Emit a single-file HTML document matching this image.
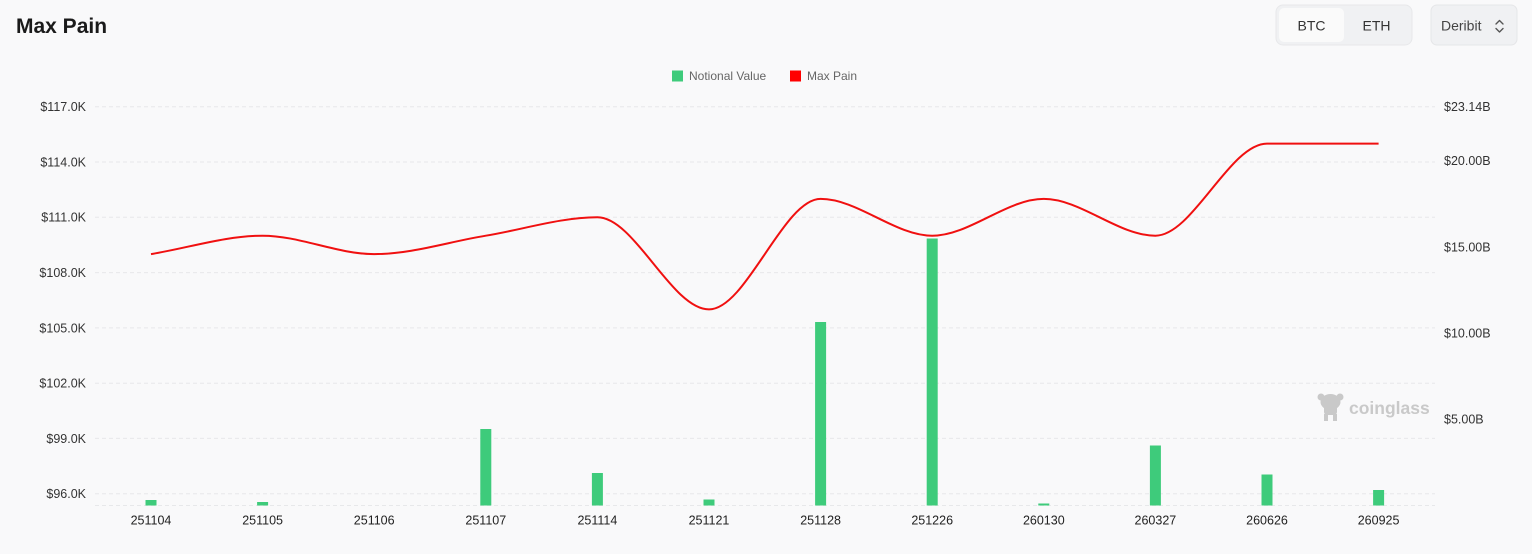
<!DOCTYPE html>
<html>
<head>
<meta charset="utf-8">
<style>
  html, body { margin:0; padding:0; background:#f9f9fa; }
  body { width:1532px; height:549px; overflow:hidden; font-family:"Liberation Sans", sans-serif; }
  svg text { font-family:"Liberation Sans", sans-serif; }
</style>
</head>
<body>
<svg width="1532" height="549" viewBox="0 0 1532 549" xmlns="http://www.w3.org/2000/svg">
  <rect x="0" y="0" width="1532" height="549" fill="#f9f9fa"/>

  <!-- Title -->
  <text x="16" y="33" font-size="21" font-weight="bold" fill="#1a1a1a">Max Pain</text>

  <!-- BTC / ETH toggle -->
  <rect x="1276" y="5" width="136" height="40" rx="7" fill="#f0f1f3" stroke="#e7e8ea"/>
  <rect x="1279" y="8" width="65" height="34" rx="5" fill="#fafafa"/>
  <text x="1311.5" y="30.5" font-size="14" fill="#333" text-anchor="middle">BTC</text>
  <text x="1376.5" y="30.5" font-size="14" fill="#333" text-anchor="middle">ETH</text>

  <!-- Deribit select -->
  <rect x="1431" y="5" width="86" height="40" rx="6" fill="#f0f1f3" stroke="#e5e6e8"/>
  <text x="1441" y="30.5" font-size="14" fill="#444">Deribit</text>
  <polyline points="1496,24 1499.5,20.5 1503,24" fill="none" stroke="#555" stroke-width="1.4" stroke-linecap="round" stroke-linejoin="round"/>
  <polyline points="1496,28.5 1499.5,32 1503,28.5" fill="none" stroke="#555" stroke-width="1.4" stroke-linecap="round" stroke-linejoin="round"/>

  <!-- Legend -->
  <rect x="672" y="70.5" width="11" height="11" fill="#3ecb7b"/>
  <text x="689" y="80" font-size="12" fill="#666">Notional Value</text>
  <rect x="790" y="70.5" width="11" height="11" fill="#ff0000"/>
  <text x="807" y="80" font-size="12" fill="#666">Max Pain</text>

  <!-- Grid lines -->
  <g stroke="#e7e8ea" stroke-width="1" stroke-dasharray="4,3">
    <line x1="95" y1="106.7" x2="1435" y2="106.7"/>
    <line x1="95" y1="162.0" x2="1435" y2="162.0"/>
    <line x1="95" y1="217.3" x2="1435" y2="217.3"/>
    <line x1="95" y1="272.6" x2="1435" y2="272.6"/>
    <line x1="95" y1="327.9" x2="1435" y2="327.9"/>
    <line x1="95" y1="383.2" x2="1435" y2="383.2"/>
    <line x1="95" y1="438.4" x2="1435" y2="438.4"/>
    <line x1="95" y1="493.7" x2="1435" y2="493.7"/>
    <line x1="95" y1="505.5" x2="1435" y2="505.5"/>
  </g>

  <!-- Left axis labels -->
  <g font-size="12.5" fill="#333" text-anchor="end">
    <text x="86" y="111.1">$117.0K</text>
    <text x="86" y="166.4">$114.0K</text>
    <text x="86" y="221.7">$111.0K</text>
    <text x="86" y="277.0">$108.0K</text>
    <text x="86" y="332.3">$105.0K</text>
    <text x="86" y="387.6">$102.0K</text>
    <text x="86" y="442.8">$99.0K</text>
    <text x="86" y="498.1">$96.0K</text>
  </g>

  <!-- Right axis labels -->
  <g font-size="12.5" fill="#333" text-anchor="start">
    <text x="1444" y="111.1">$23.14B</text>
    <text x="1444" y="165.2">$20.00B</text>
    <text x="1444" y="251.3">$15.00B</text>
    <text x="1444" y="337.4">$10.00B</text>
    <text x="1444" y="423.3">$5.00B</text>
  </g>

  <!-- Watermark -->
  <g fill="#c9c9c9">
    <ellipse cx="1330.5" cy="402" rx="10" ry="8"/>
    <circle cx="1321" cy="397" r="3.5"/>
    <circle cx="1340" cy="397" r="3.5"/>
    <rect x="1324" y="405" width="13" height="10" rx="3"/>
    <rect x="1324" y="414" width="4" height="7"/>
    <rect x="1333" y="414" width="4" height="7"/>
    <text x="1349" y="414" font-size="17.5" font-weight="bold" fill="#c9c9c9">coinglass</text>
  </g>

  <!-- Bars -->
  <g fill="#3ecb7b">
    <rect x="145.5" y="500" width="11" height="5.5"/>
    <rect x="257.1" y="502" width="11" height="3.5"/>
    <rect x="480.3" y="429" width="11" height="76.5"/>
    <rect x="591.9" y="473" width="11" height="32.5"/>
    <rect x="703.5" y="499.5" width="11" height="6"/>
    <rect x="815.1" y="322" width="11" height="183.5"/>
    <rect x="926.7" y="238.5" width="11" height="267"/>
    <rect x="1038.3" y="503.5" width="11" height="2"/>
    <rect x="1149.9" y="445.5" width="11" height="60"/>
    <rect x="1261.5" y="474.5" width="11" height="31"/>
    <rect x="1373.1" y="490" width="11" height="15.5"/>
  </g>

  <!-- Max Pain line -->
  <path d="M151,254.1 C188.2,248 225.4,235.7 262.6,235.7
           C299.8,235.7 337,254.1 374.2,254.1
           C411.4,254.1 448.6,241.8 485.8,235.7
           C523,229.6 560.2,217.3 597.4,217.3
           C634.6,217.3 671.8,309.4 709,309.4
           C746.2,309.4 783.4,198.9 820.6,198.9
           C857.8,198.9 895,235.7 932.2,235.7
           C969.4,235.7 1006.6,198.9 1043.8,198.9
           C1081,198.9 1118.2,235.7 1155.4,235.7
           C1192.6,235.7 1229.8,143.6 1267,143.6
           C1304.2,143.6 1341.4,143.6 1378.6,143.6"
        fill="none" stroke="#f01010" stroke-width="2" stroke-linejoin="round"/>

  <!-- X axis labels -->
  <g font-size="12.5" fill="#222" text-anchor="middle">
    <text x="151" y="524.5">251104</text>
    <text x="262.6" y="524.5">251105</text>
    <text x="374.2" y="524.5">251106</text>
    <text x="485.8" y="524.5">251107</text>
    <text x="597.4" y="524.5">251114</text>
    <text x="709" y="524.5">251121</text>
    <text x="820.6" y="524.5">251128</text>
    <text x="932.2" y="524.5">251226</text>
    <text x="1043.8" y="524.5">260130</text>
    <text x="1155.4" y="524.5">260327</text>
    <text x="1267" y="524.5">260626</text>
    <text x="1378.6" y="524.5">260925</text>
  </g>
</svg>
</body>
</html>
